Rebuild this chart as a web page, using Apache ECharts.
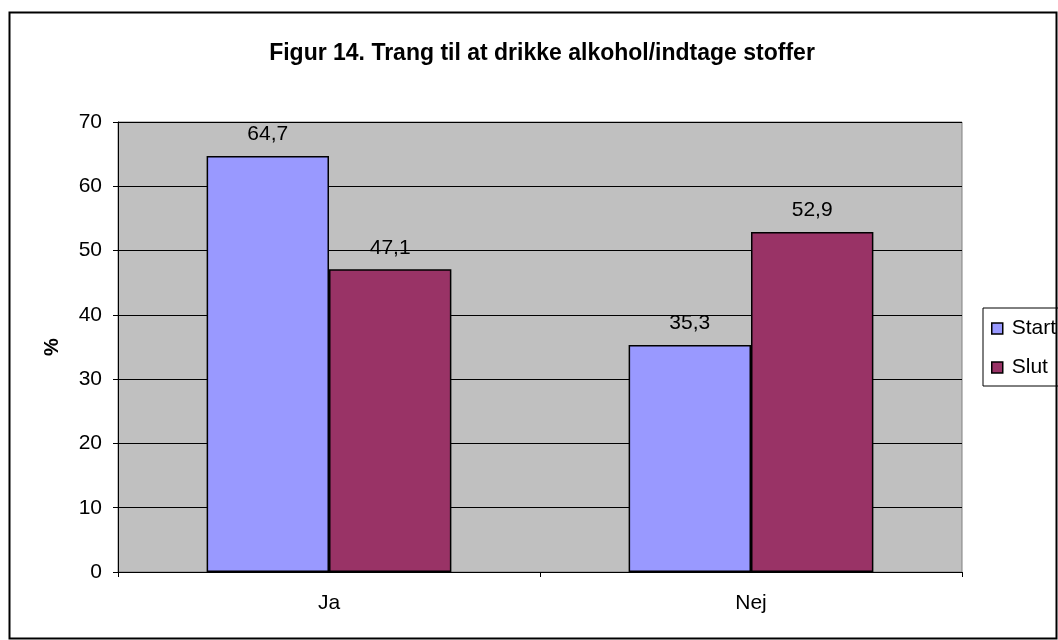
<!DOCTYPE html>
<html><head><meta charset="utf-8">
<script src="https://cdn.jsdelivr.net/npm/echarts@6/dist/echarts.min.js"></script>
<style>html,body{margin:0;padding:0;background:#fff}#c{width:1058px;height:640px}</style>
</head><body><div id="c"></div>
<script>
const categories = ["Ja", "Nej"];
const startValues = [64.7, 35.3];
const slutValues = [47.1, 52.9];
const seriesNames = ["Start", "Slut"];
const titleText = "Figur 14. Trang til at drikke alkohol/indtage stoffer";

const chart = echarts.init(document.getElementById('c'), null, {renderer: 'canvas'});
const font = '"Liberation Sans", Arial, sans-serif';
const fmt = p => String(p.value).replace('.', ',');
chart.setOption({
  animation: false,
  textStyle: {fontFamily: font},
  title: {text: titleText, left: 537, top: 37, textAlign: 'center',
    textStyle: {fontFamily: font, fontSize: 23, fontWeight: 'bold', color: '#000', lineHeight: 23}},
  graphic: [{type: 'rect', shape: {x: 9.5, y: 12.5, width: 1047, height: 626},
    style: {fill: null, stroke: '#000', lineWidth: 2}, z: -1}],
  legend: {orient: 'vertical', left: 983, top: 308, data: seriesNames,
    itemWidth: 11, itemHeight: 11, itemGap: 18, icon: 'rect',
    padding: [10, 10, 8, 8], borderColor: '#000', borderWidth: 1,
    itemStyle: {borderColor: '#000', borderWidth: 1.5},
    textStyle: {fontFamily: font, fontSize: 21, color: '#000', lineHeight: 20, padding: [0, 0, 0, 4]}},
  grid: {left: 118, top: 122, right: 96, bottom: 68, show: true,
    backgroundColor: '#C0C0C0', borderColor: '#808080', borderWidth: 1},
  xAxis: {type: 'category', data: categories,
    axisLine: {lineStyle: {color: '#000', width: 1}},
    axisTick: {show: true, length: 5, lineStyle: {color: '#000'}},
    axisLabel: {fontFamily: font, fontSize: 21, color: '#000', margin: 21}},
  yAxis: {type: 'value', min: 0, max: 70, interval: 10, name: '%',
    nameLocation: 'middle', nameGap: 56, nameRotate: 90,
    nameTextStyle: {fontFamily: font, fontSize: 20, fontWeight: 'bold', color: '#000'},
    axisLine: {show: true, lineStyle: {color: '#000'}},
    axisTick: {show: true, length: 5, lineStyle: {color: '#000'}},
    axisLabel: {fontFamily: font, fontSize: 21, color: '#000', margin: 16},
    splitLine: {lineStyle: {color: '#000', width: 1}}},
  series: [
    {name: seriesNames[0], type: 'bar', data: startValues, barGap: '0%', barCategoryGap: '42%',
      itemStyle: {color: '#9999FF', borderColor: '#000', borderWidth: 1.5},
      label: {show: true, position: 'top', distance: 11, formatter: fmt,
        fontFamily: font, fontSize: 21, color: '#000'}},
    {name: seriesNames[1], type: 'bar', data: slutValues, barGap: '0%', barCategoryGap: '42%',
      itemStyle: {color: '#993366', borderColor: '#000', borderWidth: 1.5},
      label: {show: true, position: 'top', distance: 11, formatter: fmt,
        fontFamily: font, fontSize: 21, color: '#000'}}
  ]
});
</script></body></html>
